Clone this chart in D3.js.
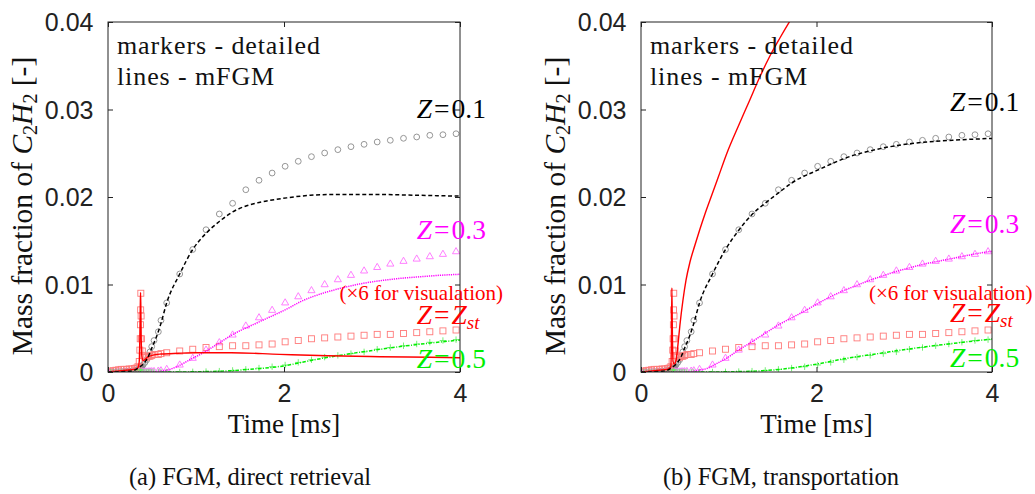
<!DOCTYPE html>
<html>
<head>
<meta charset="utf-8">
<script src="https://cdn.jsdelivr.net/npm/d3@7"></script>
<style>
  body { margin: 0; background: #fff; }
  svg { display: block; }
</style>
</head>
<body>
<svg id="fig" width="1035" height="494"></svg>
<script>
// ---- detailed-chemistry samples (markers), shared time base [ms] ----
const tDetailed = [0, 0.03, 0.06, 0.09, 0.12, 0.15, 0.18, 0.21, 0.24, 0.27, 0.30, 0.32, 0.34, 0.355,
  0.362, 0.366, 0.369, 0.371, 0.373, 0.376, 0.38, 0.39, 0.40, 0.42, 0.44, 0.458, 0.477, 0.497, 0.523,
  0.572, 0.602, 0.667, 0.815, 0.963, 1.114, 1.265, 1.416, 1.566, 1.716, 1.865, 2.013, 2.162, 2.312,
  2.462, 2.612, 2.761, 2.910, 3.059, 3.208, 3.358, 3.508, 3.657, 3.806, 3.955];

const detZ01 = [0, 0, 0, 0.00001, 0.00002, 0.00003, 0.00005, 0.00007, 0.0001, 0.00013, 0.00018, 0.00023, 0.0003, 0.00036,
  0.0004, 0.00043, 0.00045, 0.00047, 0.00049, 0.00052, 0.00057, 0.0007, 0.00085, 0.0011, 0.0014, 0.0018, 0.0023, 0.0029, 0.0036,
  0.0046, 0.0059, 0.0079, 0.0112, 0.0140, 0.01626, 0.01806, 0.01928, 0.02083, 0.02191, 0.02274, 0.02351, 0.02408, 0.02461,
  0.02503, 0.02541, 0.02575, 0.02602, 0.02629, 0.02648, 0.02671, 0.02686, 0.02705, 0.02712, 0.02723];

const detZ03 = [0, 0, 0, 0, 0, 0, 0, 0, 0, 0, 0, 0, 0, 0,
  0, 0, 0, 0, 0, 0, 0, 0, 0, 0, 0.00001, 0.00002, 0.00003, 0.00004, 0.00006,
  0.0001, 0.00014, 0.0003, 0.0008, 0.00157, 0.00251, 0.00335, 0.00423, 0.00526, 0.0062, 0.00705, 0.0079, 0.0086, 0.0093,
  0.00998, 0.01055, 0.01105, 0.01155, 0.01195, 0.01234, 0.01265, 0.01291, 0.01318, 0.01345, 0.01375];

// Z = Z_st, scaled by 6
const detZst = [0, 0.0001, 0.00015, 0.0002, 0.00025, 0.0003, 0.0003, 0.0003, 0.00035, 0.00035, 0.0004, 0.00045, 0.0006, 0.0012,
  0.0025, 0.0038, 0.0054, 0.0071, 0.0090, 0.0064, 0.0038, 0.0024, 0.0019, 0.0017, 0.0017, 0.0018, 0.0018, 0.0019, 0.0020,
  0.0020, 0.0021, 0.0022, 0.0024, 0.0026, 0.0028, 0.0029, 0.0030, 0.0030, 0.0031, 0.0032, 0.00345, 0.0036, 0.0038,
  0.0039, 0.0040, 0.0041, 0.0042, 0.0043, 0.0043, 0.0044, 0.0045, 0.0046, 0.0047, 0.0048];

const detZ05 = [0, 0, 0, 0, 0, 0, 0, 0, 0, 0, 0, 0, 0, 0,
  0, 0, 0, 0, 0, 0, 0, 0, 0, 0, 0, 0, 0, 0, 0,
  0, 0, 0, 0, 0.00002, 0.00005, 0.0001, 0.00018, 0.0003, 0.00045, 0.0006, 0.0008, 0.0011, 0.0014,
  0.0017, 0.0019, 0.0021, 0.0023, 0.0026, 0.0028, 0.0030, 0.0032, 0.0034, 0.0036, 0.0037];

// ---- mFGM, direct retrieval (panel a) ----
const tA_Z01 = [0, 0.2, 0.3, 0.35, 0.4, 0.45, 0.5, 0.55, 0.6, 0.667, 0.815, 0.963, 1.114, 1.265, 1.417, 1.576, 1.803, 2.03, 2.3, 2.6, 3.0, 3.5, 4.0];
const yA_Z01 = [0, 0.00005, 0.0002, 0.0005, 0.0009, 0.0016, 0.0028, 0.0040, 0.0055, 0.0079, 0.0112, 0.0140, 0.01585, 0.0172, 0.0183, 0.0190, 0.01954, 0.0199, 0.0202, 0.0203, 0.0203, 0.0202, 0.0201];

const tA_Z03 = [0, 0.5, 0.6, 0.7, 0.78, 0.93, 1.1, 1.26, 1.42, 1.69, 2.07, 2.18, 2.41, 2.64, 2.86, 3.09, 3.32, 3.55, 3.77, 4.0];
const yA_Z03 = [0, 0, 0.0001, 0.0003, 0.0006, 0.0014, 0.0023, 0.0033, 0.0043, 0.0056, 0.0074, 0.0080, 0.0089, 0.00956, 0.01006, 0.01043, 0.0107, 0.01089, 0.01105, 0.01117];

const tA_Zst = [0, 0.1, 0.2, 0.3, 0.34, 0.355, 0.362, 0.367, 0.37, 0.373, 0.377, 0.385, 0.40, 0.45, 0.5, 0.6, 0.8, 1.0, 1.4, 1.95, 2.5, 3.09, 3.66, 4.0];
const yA_Zst = [0, 0.0001, 0.0002, 0.0003, 0.0005, 0.0012, 0.004, 0.0075, 0.0091, 0.0075, 0.004, 0.0018, 0.0013, 0.0017, 0.0019, 0.00205, 0.00214, 0.0022, 0.0022, 0.00202, 0.00186, 0.00175, 0.00168, 0.00163];

const tA_Z05 = [0, 0.8, 1.0, 1.3, 1.6, 2.0, 2.33, 2.71, 3.09, 3.47, 4.0];
const yA_Z05 = [0, 0, 0.00003, 0.0001, 0.0003, 0.0007, 0.00137, 0.00202, 0.00259, 0.00309, 0.00366];

// ---- mFGM, transported (panel b) ----
const tB_Z01 = [0, 0.2, 0.3, 0.35, 0.4, 0.45, 0.5, 0.55, 0.6, 0.667, 0.815, 0.963, 1.114, 1.265, 1.417, 1.584, 1.717, 2.02, 2.344, 2.76, 3.217, 3.67, 4.0];
const yB_Z01 = [0, 0.00005, 0.0002, 0.0005, 0.0009, 0.0016, 0.0028, 0.0040, 0.0055, 0.0079, 0.0112, 0.0140, 0.0162, 0.0180, 0.0193, 0.0206, 0.0216, 0.0231, 0.0245, 0.0256, 0.02625, 0.02655, 0.0267];

const tB_Z03 = [0, 0.55, 0.65, 0.75, 0.85, 0.98, 1.11, 1.24, 1.41, 1.57, 1.72, 1.87, 2.01, 2.16, 2.31, 2.46, 2.61, 2.76, 2.91, 3.06, 3.21, 3.36, 3.51, 3.66, 3.81, 4.0];
const yB_Z03 = [0, 0, 0.0002, 0.0004, 0.0009, 0.0016, 0.0025, 0.0033, 0.0044, 0.0054, 0.0062, 0.0070, 0.0078, 0.0086, 0.0093, 0.0099, 0.0105, 0.0110, 0.0115, 0.0119, 0.0123, 0.0126, 0.0129, 0.0132, 0.0135, 0.0138];

const tB_Zst = [0, 0.1, 0.2, 0.3, 0.34, 0.347, 0.352, 0.357, 0.365, 0.38, 0.399, 0.421, 0.444, 0.478, 0.513, 0.558, 0.615, 0.672, 0.729, 0.786, 0.877, 0.98, 1.105, 1.23, 1.355, 1.469, 1.583, 1.697, 1.811];
const yB_Zst = [0, 0.0001, 0.0002, 0.0003, 0.0006, 0.004, 0.0096, 0.005, 0.0012, 0.0009, 0.0013, 0.0031, 0.0054, 0.0082, 0.0105, 0.01257, 0.01451, 0.01634, 0.01806, 0.01966, 0.02217, 0.02503, 0.028, 0.03086, 0.03374, 0.03611, 0.03817, 0.04011, 0.04194];

const tB_Z05 = [0, 0.8, 1.0, 1.3, 1.584, 2.0, 2.343, 2.7, 3.1, 3.5, 4.0];
const yB_Z05 = [0, 0, 0.00003, 0.0001, 0.0003, 0.0009, 0.00156, 0.0021, 0.0027, 0.0032, 0.00377];

// ---- axes ----
const xDomain = [0, 4];
const yDomain = [0, 0.04];
const xTicks = [0, 2, 4];
const xTickLabels = ["0", "2", "4"];
const yTicks = [0, 0.01, 0.02, 0.03, 0.04];
const yTickLabels = ["0", "0.01", "0.02", "0.03", "0.04"];
const captions = ["(a) FGM, direct retrieval", "(b) FGM, transportation"];

const SERIF = "'Liberation Serif', 'Times New Roman', serif";
const SANS = "'Liberation Sans', Arial, sans-serif";

const svg = d3.select("#fig");
const zip = (ts, vs) => ts.map((t, i) => [t, vs[i]]);

const panels = [
  { left: 108, right: 460, caption: captions[0], capX: 250,
    lines: { z01: zip(tA_Z01, yA_Z01), z03: zip(tA_Z03, yA_Z03), zst: zip(tA_Zst, yA_Zst), z05: zip(tA_Z05, yA_Z05) },
    lab: { x: 416.7, z01: 118, z03: 238.5, scale: 300, zst: 323.5, z05: 368, scaleX: 339.5 } },
  { left: 641, right: 992, caption: captions[1], capX: 781,
    lines: { z01: zip(tB_Z01, yB_Z01), z03: zip(tB_Z03, yB_Z03), zst: zip(tB_Zst, yB_Zst), z05: zip(tB_Z05, yB_Z05) },
    lab: { x: 950, z01: 110.5, z03: 233, scale: 299.5, zst: 322, z05: 367, scaleX: 869 } }
];

const TOP = 22, BOTTOM = 372;

panels.forEach((p, pi) => {
  const x = d3.scaleLinear(xDomain, [p.left, p.right]);
  const y = d3.scaleLinear(yDomain, [BOTTOM, TOP]);
  const g = svg.append("g");

  const clipId = "clip" + pi;
  svg.append("clipPath").attr("id", clipId)
    .append("rect").attr("x", p.left).attr("y", TOP)
    .attr("width", p.right - p.left).attr("height", BOTTOM - TOP);

  // markers (detailed chemistry)
  const mk = g.append("g").attr("clip-path", `url(#${clipId})`).attr("fill", "none");
  const pts = vals => tDetailed.map((t, i) => [x(t), y(vals[i])]);

  mk.selectAll("circle.c").data(pts(detZ01)).join("circle")
    .attr("cx", d => d[0]).attr("cy", d => d[1]).attr("r", 2.9)
    .attr("stroke", "#8a8a8a").attr("stroke-width", 0.9);

  const tri = d3.symbol().type(d3.symbolTriangle).size(22);
  mk.selectAll("path.t").data(pts(detZ03)).join("path")
    .attr("d", tri).attr("transform", d => `translate(${d[0]},${d[1]})`)
    .attr("stroke", "#ff70ff").attr("stroke-width", 0.9);

  mk.selectAll("rect.s").data(pts(detZst)).join("rect")
    .attr("x", d => d[0] - 3).attr("y", d => d[1] - 3).attr("width", 6).attr("height", 6)
    .attr("stroke", "#ff7a7a").attr("stroke-width", 0.9);

  mk.selectAll("path.p").data(pts(detZ05)).join("path")
    .attr("d", () => { const s = 3.2; return `M${-s},0H${s}M0,${-s}V${s}`; })
    .attr("transform", d => `translate(${d[0]},${d[1]})`)
    .attr("stroke", "#66ee66").attr("stroke-width", 0.9);

  // model lines (mFGM)
  const line = d3.line().x(d => x(d[0])).y(d => y(d[1])).curve(d3.curveMonotoneX);
  const ln = g.append("g").attr("clip-path", `url(#${clipId})`).attr("fill", "none");
  ln.append("path").attr("d", line(p.lines.z05)).attr("stroke", "#00ee00").attr("stroke-width", 1.5)
    .attr("stroke-dasharray", "3.5,1.5,1,1.5");
  ln.append("path").attr("d", line(p.lines.z03)).attr("stroke", "#ff00ff").attr("stroke-width", 1.5)
    .attr("stroke-dasharray", "1.2,1");
  ln.append("path").attr("d", line(p.lines.zst)).attr("stroke", "#ff0000").attr("stroke-width", 1.4);
  ln.append("path").attr("d", line(p.lines.z01)).attr("stroke", "#000").attr("stroke-width", 1.5)
    .attr("stroke-dasharray", "4,2.6");

  // frame and ticks (all inward)
  const ax = g.append("g");
  const styleAxis = sel => {
    sel.select(".domain").remove();
    sel.selectAll(".tick line").attr("stroke", "#222");
    sel.selectAll(".tick text").attr("fill", "#222").attr("font-size", 25).attr("font-family", SANS);
  };
  ax.append("g").attr("transform", `translate(${p.left},0)`)
    .call(d3.axisLeft(y).tickValues(yTicks).tickSize(-5).tickPadding(14.5)
      .tickFormat((d, i) => yTickLabels[i])).call(styleAxis)
    .selectAll(".tick text").attr("dy", "0.35em");
  ax.append("g").attr("transform", `translate(${p.right},0)`)
    .call(d3.axisRight(y).tickValues(yTicks).tickSize(-5).tickFormat("")).call(styleAxis);
  ax.append("g").attr("transform", `translate(0,${BOTTOM})`)
    .call(d3.axisBottom(x).tickValues(xTicks).tickSize(-5).tickPadding(12.5)
      .tickFormat((d, i) => xTickLabels[i])).call(styleAxis);
  ax.append("g").attr("transform", `translate(0,${TOP})`)
    .call(d3.axisTop(x).tickValues(xTicks).tickSize(-5).tickFormat("")).call(styleAxis);
  g.append("rect").attr("x", p.left).attr("y", TOP)
    .attr("width", p.right - p.left).attr("height", BOTTOM - TOP)
    .attr("fill", "none").attr("stroke", "#222").attr("stroke-width", 1);

  // in-plot notes
  [["markers - detailed", 54], ["lines - mFGM", 85]].forEach(([s, yy]) => {
    g.append("text").attr("x", p.left + 9).attr("y", yy)
      .attr("font-family", SERIF).attr("font-size", 26).attr("letter-spacing", 0.9)
      .attr("fill", "#111").text(s);
  });

  // curve labels
  const L = p.lab;
  const zlab = (yy, color, rhs, sub) => {
    const t = g.append("text").attr("font-family", SERIF).attr("x", L.x).attr("y", yy)
      .attr("font-size", 27.5).attr("fill", color);
    t.append("tspan").attr("font-style", "italic").text("Z");
    t.append("tspan").attr("dx", 2).text("=");
    if (sub) {
      t.append("tspan").attr("dx", 2).attr("font-style", "italic").text("Z");
      t.append("tspan").attr("font-style", "italic").attr("font-size", 19).attr("dy", 5).text(sub);
    } else {
      t.append("tspan").attr("dx", 2).text(rhs);
    }
  };
  zlab(L.z01, "#000", "0.1");
  zlab(L.z03, "#ff00ff", "0.3");
  zlab(L.zst, "#ff0000", null, "st");
  zlab(L.z05, "#00ee00", "0.5");
  g.append("text").attr("font-family", SERIF).attr("x", L.scaleX).attr("y", L.scale)
    .attr("font-size", 21).attr("fill", "#ff0000").text("(×6 for visualation)");

  // axis titles
  const cx = (p.left + p.right) / 2;
  const xt = g.append("text").attr("font-family", SERIF).attr("x", cx).attr("y", 433)
    .attr("text-anchor", "middle").attr("font-size", 27).attr("fill", "#111");
  xt.append("tspan").text("Time [m");
  xt.append("tspan").attr("font-style", "italic").text("s");
  xt.append("tspan").text("]");

  const yt = g.append("text").attr("font-family", SERIF)
    .attr("transform", `translate(${p.left - 76},${(TOP + BOTTOM) / 2 + 9}) rotate(-90)`)
    .attr("text-anchor", "middle").attr("font-size", 29.5).attr("fill", "#111");
  yt.append("tspan").text("Mass fraction of ");
  yt.append("tspan").attr("font-style", "italic").text("C");
  yt.append("tspan").attr("font-size", 20).attr("dy", 5).text("2");
  yt.append("tspan").attr("font-style", "italic").attr("dy", -5).text("H");
  yt.append("tspan").attr("font-size", 20).attr("dy", 5).text("2");
  yt.append("tspan").attr("dy", -5).text(" [-]");

  // sub-figure caption
  g.append("text").attr("font-family", SERIF).attr("x", p.capX).attr("y", 485)
    .attr("text-anchor", "middle").attr("font-size", 24.5).attr("fill", "#111").text(p.caption);
});
</script>
</body>
</html>
